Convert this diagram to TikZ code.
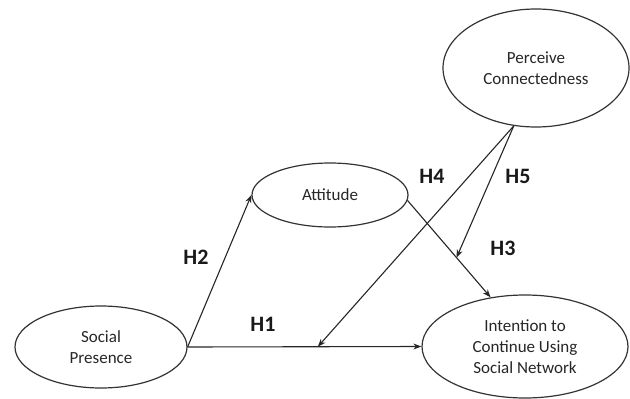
\documentclass[tikz,border=0pt]{standalone}
\usepackage{fontspec}
\setmainfont{Carlito}
\usetikzlibrary{shapes.geometric,arrows.meta}
\begin{document}
\begin{tikzpicture}[x=1pt,y=-1pt,
  ell/.style={ellipse,draw=black!80,line width=1.2pt,inner sep=0pt,align=center,
    font=\fontsize{17}{21}\selectfont,text=black!85},
  conn/.style={draw=black!85,line width=1.1pt,-{Stealth[length=8pt,width=6pt]}},
  hlab/.style={font=\fontsize{22}{24}\selectfont\bfseries,text=black!90,inner sep=0pt}]
\useasboundingbox (0,0) rectangle (630,399);
\node[ell,minimum width=172pt,minimum height=82pt] (sp) at (101,347) {Social\\Presence};
\node[ell,minimum width=156pt,minimum height=64pt] (att) at (330,195) {Attitude};
\node[ell,minimum width=186pt,minimum height=118pt] (pc) at (536,68) {Perceive\\Connectedness};
\node[ell,minimum width=206pt,minimum height=103pt] (int) at (525,346.5) {Intention to\\Continue Using\\Social Network};
% helper points on paths
\path (sp.east) -- (int.west) coordinate[pos=0.557] (h4end);
\path (att.-4) -- (int.125) coordinate[pos=0.59] (h5end);
% connectors
\draw[conn] (sp.east) -- (int.west);
\draw[conn] (sp.east) -- (att.west);
\draw[conn] (att.-4) -- (int.125);
\draw[conn] (pc.249) -- (h4end);
\draw[conn] (pc.249) -- (h5end);
% labels
\node[hlab] (l1) at (263,324) {H1};
\node[hlab] (l2) at (196,257) {H2};
\node[hlab] (l3) at (503,248) {H3};
\node[hlab] (l4) at (432,176) {H4};
\node[hlab] (l5) at (518,176) {H5};
\end{tikzpicture}
\end{document}
